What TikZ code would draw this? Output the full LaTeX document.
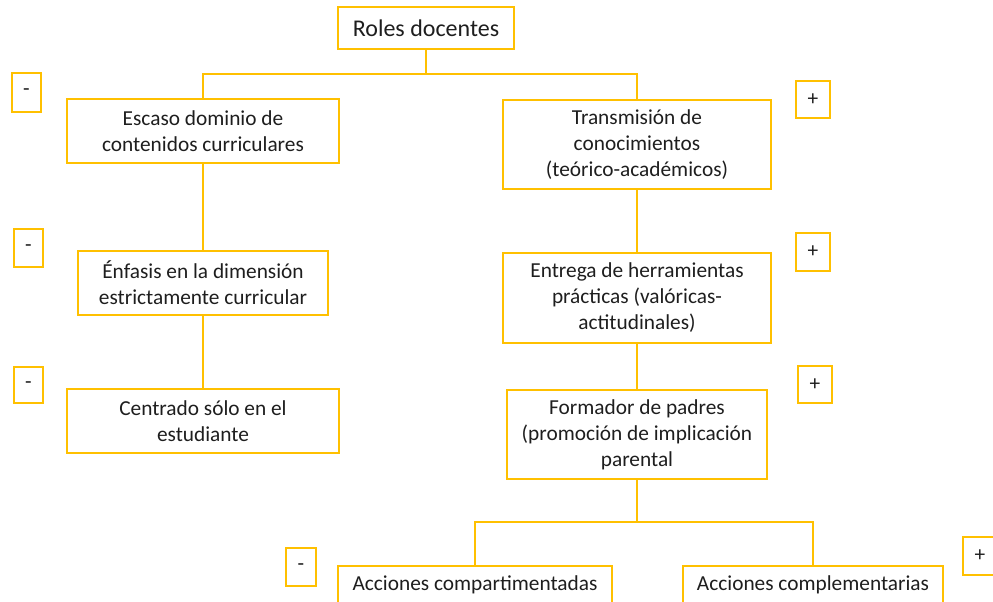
\documentclass[tikz,border=0pt]{standalone}
\usepackage{fontspec}
\setmainfont{Carlito}
\usetikzlibrary{positioning}
\definecolor{gold}{RGB}{255,192,0}
\definecolor{ink}{RGB}{30,30,30}

\begin{document}
\begin{tikzpicture}[x=0.75pt,y=-0.75pt,
    dims/.style 2 args={minimum width=#1*0.75pt,minimum height=#2*0.75pt},
    box/.style={draw=gold,line width=1.3pt,align=center,text=ink,inner sep=1pt,
      font=\fontsize{16}{19.5}\selectfont},
    sign/.style={box,inner sep=0pt},
    link/.style={gold,line width=1.3pt}]
  \useasboundingbox (0,0) rectangle (993,602);
  % title
  \node[box,dims={176}{42},font=\fontsize{18}{22}\selectfont] (roles) at (426,28) {Roles docentes};
  % left column
  \node[box,dims={272}{64}] (escaso)   at (203,131) {Escaso dominio de\\contenidos curriculares};
  \node[box,dims={250}{64}] (enfasis)  at (203,283) {Énfasis en la dimensión\\estrictamente curricular};
  \node[box,dims={272}{64}] (centrado) at (203,421) {Centrado sólo en el\\estudiante};
  % right column
  \node[box,dims={268}{89}] (transm)   at (637,144.5) {Transmisión de\\conocimientos\\(teórico-académicos)};
  \node[box,dims={268}{90}] (entrega)  at (637,298) {Entrega de herramientas\\prácticas (valóricas-\\actitudinales)};
  \node[box,dims={260}{89}] (formador) at (637,434.5) {Formador de padres\\(promoción de implicación\\parental};
  \node[box,dims={274}{38}] (compart)  at (475,585) {Acciones compartimentadas};
  \node[box,dims={260}{38}] (complem)  at (813,585) {Acciones complementarias};
  % signs
  \node[sign,dims={29}{39}] (negA) at (26.5,92.5) {-};
  \node[sign,dims={29}{38}] (negB) at (28.5,248) {-};
  \node[sign,dims={29}{36}] (negC) at (28.5,385) {-};
  \node[sign,dims={30}{38}] (negD) at (301,567) {-};
  \node[sign,dims={34}{37}] (posA) at (813,99.5) {+};
  \node[sign,dims={34}{38}] (posB) at (813,252) {+};
  \node[sign,dims={34}{37}] (posC) at (815,384.5) {+};
  \node[sign,dims={34}{38}] (posD) at (980,556) {+};
  % connectors
  \coordinate (forkA) at (426,74);
  \coordinate (forkB) at (637,522);
  \draw[link] (roles.south) -- (forkA);
  \draw[link] (escaso.north) |- (forkA) -| (transm.north);
  \draw[link] (escaso) -- (enfasis);
  \draw[link] (enfasis) -- (centrado);
  \draw[link] (transm) -- (entrega);
  \draw[link] (entrega) -- (formador);
  \draw[link] (formador.south) -- (forkB);
  \draw[link] (compart.north) |- (forkB) -| (complem.north);
\end{tikzpicture}
\end{document}
